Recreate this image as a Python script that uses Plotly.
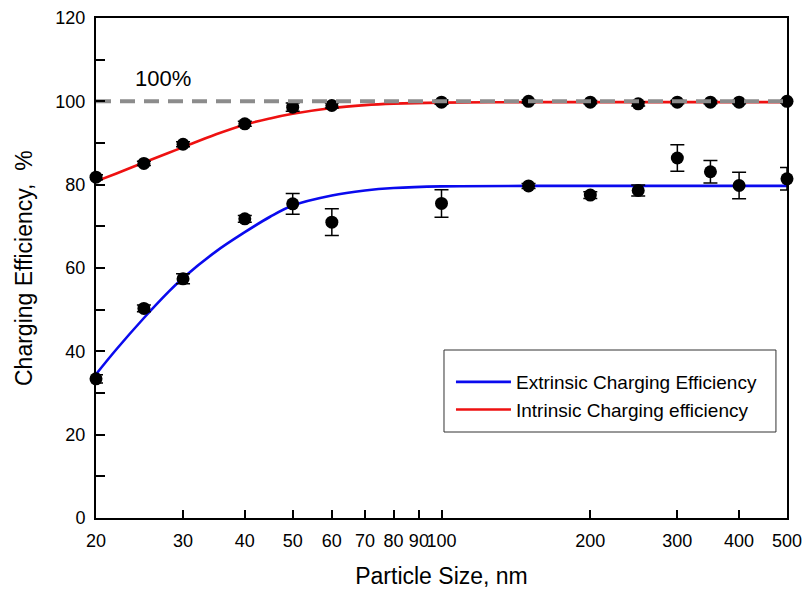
import numpy as np
import plotly.graph_objects as go

# Measured data (particle size in nm, efficiency in %)
sizes = [20, 25, 30, 40, 50, 60, 100, 150, 200, 250, 300, 350, 400, 500]
intrinsic = [81.8, 85.1, 89.7, 94.6, 98.6, 99.0, 99.8, 100.0, 99.8, 99.4, 99.8, 99.8, 99.8, 100.0]
intrinsic_err = [0.6, 0.5, 0.6, 0.6, 1.0, 0.6, 0.5, 0.4, 0.4, 0.5, 0.4, 0.4, 0.4, 0.4]
extrinsic = [33.4, 50.3, 57.4, 71.8, 75.4, 71.0, 75.5, 79.7, 77.5, 78.6, 86.4, 83.1, 79.8, 81.4]
extrinsic_err = [1.0, 0.8, 1.2, 0.8, 2.5, 3.2, 3.3, 0.6, 0.8, 1.3, 3.2, 2.7, 3.2, 2.7]

# Fitted curves
curve_x = [20, 22, 25, 28, 30, 35, 40, 45, 50, 60, 70, 80, 100, 150, 200, 300, 500]
extrinsic_fit = [34.5, 40.5, 48.0, 54.2, 57.6, 64.0, 68.6, 72.3, 75.0, 77.4, 78.6, 79.2, 79.6, 79.7, 79.7, 79.7, 79.7]
intrinsic_fit = [80.8, 82.7, 85.3, 87.6, 89.0, 92.1, 94.4, 95.9, 97.0, 98.4, 99.1, 99.45, 99.7, 99.8, 99.8, 99.8, 99.8]

ref_x = [20, 500]
ref_y = [100, 100]

x_ticks = [20, 30, 40, 50, 60, 70, 80, 90, 100, 200, 300, 400, 500]
x_ticktext = ["20", "30", "40", "50", "60", "70", "80", "90", "100", "200", "300", "400", "500"]

FONT = "Liberation Sans, Arial, sans-serif"

fig = go.Figure()

fig.add_trace(go.Scatter(
    x=curve_x, y=extrinsic_fit, mode="lines", line_shape="spline",
    line=dict(color="#0a0aee", width=2.6),
    name="Extrinsic Charging Efficiency"))
fig.add_trace(go.Scatter(
    x=curve_x, y=intrinsic_fit, mode="lines", line_shape="spline",
    line=dict(color="#ee1111", width=2.6),
    name="Intrinsic Charging efficiency"))

for vals, errs in [(extrinsic, extrinsic_err), (intrinsic, intrinsic_err)]:
    fig.add_trace(go.Scatter(
        x=sizes, y=vals, mode="markers", showlegend=False, cliponaxis=False,
        marker=dict(color="black", size=13),
        error_y=dict(type="data", array=errs, visible=True,
                     color="black", thickness=1.5, width=7)))

fig.add_trace(go.Scatter(
    x=ref_x, y=ref_y, mode="lines", showlegend=False, cliponaxis=False,
    line=dict(color="#8c8c8c", width=4, dash="15px,9px")))

fig.add_annotation(
    x=0.097, xref="paper", y=105.4, yref="y", text="100%", showarrow=False,
    xanchor="center", yanchor="middle",
    font=dict(family=FONT, size=22, color="black"))

# y-axis title
fig.add_annotation(
    x=-0.1042, xref="paper", y=0.5, yref="paper", text="Charging Efficiency,  %",
    textangle=-90, showarrow=False, xanchor="center", yanchor="middle",
    font=dict(family=FONT, size=23, color="black"))

# legend frame
fig.add_shape(type="rect", xref="paper", yref="paper",
              x0=0.5036, x1=0.984, y0=0.172, y1=0.336,
              line=dict(color="#333333", width=1), fillcolor="white", layer="below")

fig.update_layout(
    width=808, height=593,
    margin=dict(l=96, r=21, t=18, b=75),
    paper_bgcolor="white", plot_bgcolor="white",
    font=dict(family=FONT, color="black"),
    showlegend=True,
    legend=dict(
        x=0.5137, y=0.31, xanchor="left", yanchor="top",
        borderwidth=0, bgcolor="rgba(0,0,0,0)", itemwidth=55,
        font=dict(family=FONT, size=19, color="black"),
        tracegroupgap=0),
)

fig.update_xaxes(
    type="log", range=[np.log10(20) - 1e-6, np.log10(500) + 1e-6],
    tickmode="array", tickvals=x_ticks, ticktext=x_ticktext, tickangle=0,
    ticks="inside", ticklen=8, tickwidth=1.5, tickcolor="black",
    showline=True, linecolor="black", linewidth=2, mirror=True,
    showgrid=False, zeroline=False, automargin=False,
    tickfont=dict(family=FONT, size=18, color="black"),
    ticklabelstandoff=5,
    title=dict(text="Particle Size, nm", font=dict(family=FONT, size=23, color="black"), standoff=18),
)
fig.update_yaxes(
    range=[0, 120], tickmode="linear", tick0=0, dtick=20,
    ticks="inside", ticklen=9, tickwidth=1.5, tickcolor="black",
    minor=dict(dtick=10, ticks="inside", ticklen=9, tickwidth=1.5, tickcolor="black"),
    showline=True, linecolor="black", linewidth=2, mirror=True,
    showgrid=False, zeroline=False, automargin=False,
    tickfont=dict(family=FONT, size=18, color="black"),
    ticklabelstandoff=5,
)

fig.write_html("out.html", post_script="document.body.style.margin='0px';",
               config={"displayModeBar": False})
